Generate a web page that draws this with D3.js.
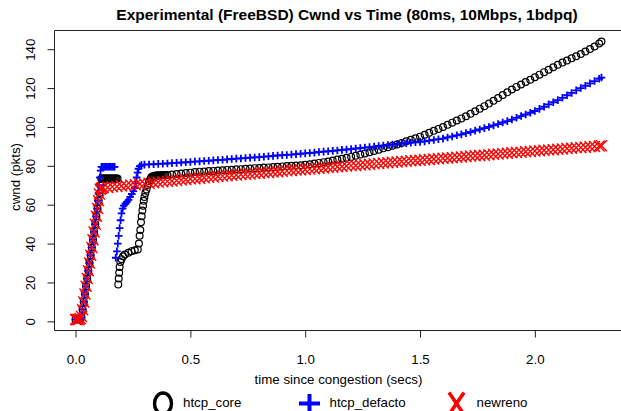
<!DOCTYPE html>
<html>
<head>
<meta charset="utf-8">
<script src="https://cdn.jsdelivr.net/npm/d3@7"></script>
<style>
	body { margin: 0; background: #fff; }
	svg { display: block; font-family: 'Liberation Sans', Arial, Helvetica, sans-serif; }
	.axis text { font-size: 13.3px; fill: #000; }
	.axis line { stroke: #222; }
</style>
</head>
<body>
<div id="chart"></div>
<script>
// series names / colours as in the legend
const seriesNames = ['htcp_core', 'htcp_defacto', 'newreno'];
const seriesColors = ['#000000', '#0000ff', '#ff0000'];
const xTicks = [0, 0.5, 1, 1.5, 2];
const yTicks = [0, 20, 40, 60, 80, 100, 120, 140];

// [time since congestion (secs), cwnd (pkts)]
const htcpCore = [
	[0, 1], [0.01, 1], [0.02, 1], [0.026, 2], [0.031, 6], [0.036, 10], [0.041, 14], [0.046, 18],
	[0.051, 22], [0.056, 26], [0.061, 30], [0.066, 34], [0.071, 38], [0.076, 42], [0.081, 46],
	[0.086, 50], [0.091, 54], [0.096, 58], [0.101, 62], [0.105, 66], [0.108, 70], [0.112, 73.3],
	[0.116, 73.5], [0.12, 73.5], [0.125, 73.5], [0.13, 73.5], [0.135, 73.5], [0.14, 73.5],
	[0.145, 73.5], [0.15, 73.5], [0.155, 73.5], [0.16, 73.5], [0.165, 73.5], [0.17, 73.5],
	[0.174, 73.5], [0.178, 73.5], [0.183, 73.5], [0.186, 19], [0.188, 22], [0.19, 25], [0.192, 28],
	[0.195, 30.5], [0.2, 32], [0.207, 33.5], [0.215, 34.4], [0.23, 35.3], [0.244, 36.1], [0.258, 36.6],
	[0.271, 37], [0.276, 40], [0.279, 44], [0.282, 47], [0.285, 51], [0.288, 54], [0.291, 57],
	[0.294, 59.5], [0.297, 62], [0.3, 64], [0.304, 66], [0.309, 67.8], [0.315, 70], [0.32, 72],
	[0.327, 73.5], [0.331, 74.2], [0.335, 74.5], [0.339, 74.6], [0.343, 74.8], [0.347, 74.9],
	[0.351, 75], [0.355, 75], [0.36, 75], [0.365, 75], [0.37, 75.1], [0.375, 75.1], [0.38, 75.2],
	[0.385, 75.2], [0.39, 75.3],
	[0.40, 75.3], [0.42, 75.5], [0.44, 75.8], [0.46, 76.0], [0.48, 76.3], [0.50, 76.5], [0.52, 76.8],
	[0.54, 77.0], [0.56, 77.1], [0.58, 77.3], [0.60, 77.4], [0.62, 77.6], [0.64, 77.7], [0.66, 77.9],
	[0.68, 78.0], [0.70, 78.2], [0.72, 78.3], [0.74, 78.5], [0.76, 78.6], [0.78, 78.8], [0.80, 78.9],
	[0.82, 79.1], [0.84, 79.2], [0.86, 79.4], [0.88, 79.5], [0.90, 79.7], [0.92, 79.9], [0.94, 80.0],
	[0.96, 80.2], [0.98, 80.3], [1.00, 80.5], [1.02, 80.8], [1.04, 81.2], [1.06, 81.5], [1.08, 81.9],
	[1.10, 82.2], [1.12, 82.7], [1.14, 83.2], [1.16, 83.6], [1.18, 84.1], [1.20, 84.6], [1.22, 85.2],
	[1.24, 85.8], [1.26, 86.4], [1.28, 87.0], [1.30, 87.6], [1.32, 88.3], [1.34, 89.0], [1.36, 89.6],
	[1.38, 90.3], [1.40, 91.0], [1.42, 91.8], [1.44, 92.6], [1.46, 93.4], [1.48, 94.2], [1.50, 95.0],
	[1.52, 96.0], [1.54, 97.0], [1.56, 98.0], [1.58, 99.0], [1.60, 100.0], [1.62, 101.1], [1.64, 102.2],
	[1.66, 103.3], [1.68, 104.4], [1.70, 105.5], [1.72, 106.8], [1.74, 108.1], [1.76, 109.4],
	[1.78, 110.7], [1.80, 112.0], [1.82, 113.5], [1.84, 114.9], [1.86, 116.4], [1.88, 117.8],
	[1.90, 119.3], [1.92, 120.6], [1.94, 121.8], [1.96, 123.1], [1.98, 124.3], [2.00, 125.6],
	[2.02, 126.9], [2.04, 128.2], [2.06, 129.4], [2.08, 130.7], [2.10, 132.0], [2.12, 133.1],
	[2.14, 134.2], [2.16, 135.3], [2.18, 136.4], [2.20, 137.5], [2.22, 138.8], [2.24, 140.1],
	[2.26, 141.4], [2.28, 142.9], [2.29, 143.9]
];

const htcpDefacto = [
	[0, 1], [0.01, 1], [0.02, 1], [0.025, 2], [0.03, 6], [0.035, 10], [0.04, 14], [0.045, 18],
	[0.05, 22], [0.055, 26], [0.06, 30], [0.065, 34], [0.07, 38], [0.075, 42], [0.08, 46],
	[0.085, 50], [0.09, 54], [0.094, 58], [0.097, 62], [0.1, 66], [0.103, 70], [0.106, 74],
	[0.109, 77.5], [0.113, 79.5], [0.118, 79.5], [0.124, 79.5], [0.13, 79.5], [0.136, 79.5],
	[0.142, 79.5], [0.148, 79.5], [0.154, 79.5], [0.16, 79.5], [0.166, 79.5], [0.17, 79.5],
	[0.175, 32.7], [0.18, 36], [0.184, 40], [0.188, 44], [0.192, 48],
	[0.196, 52], [0.2, 55.5], [0.205, 58], [0.21, 59.5], [0.217, 60.5], [0.224, 61.5], [0.231, 62.5],
	[0.238, 64], [0.245, 65.5], [0.252, 67], [0.258, 68.6], [0.262, 71], [0.266, 74], [0.27, 76.5],
	[0.274, 78.5], [0.28, 79.8], [0.287, 80.4],
	[0.30, 80.6], [0.32, 80.7], [0.34, 80.8], [0.36, 81.0], [0.38, 81.1], [0.40, 81.2], [0.42, 81.4],
	[0.44, 81.5], [0.46, 81.7], [0.48, 81.8], [0.50, 82.0], [0.52, 82.2], [0.54, 82.3], [0.56, 82.5],
	[0.58, 82.6], [0.60, 82.8], [0.62, 83.0], [0.64, 83.1], [0.66, 83.3], [0.68, 83.5], [0.70, 83.7],
	[0.72, 83.8], [0.74, 84.0], [0.76, 84.2], [0.78, 84.3], [0.80, 84.5], [0.82, 84.7], [0.84, 84.9],
	[0.86, 85.1], [0.88, 85.3], [0.90, 85.5], [0.92, 85.6], [0.94, 85.8], [0.96, 86.0], [0.98, 86.2],
	[1.00, 86.4], [1.02, 86.6], [1.04, 86.8], [1.06, 87.1], [1.08, 87.3], [1.10, 87.5], [1.12, 87.7],
	[1.14, 87.9], [1.16, 88.2], [1.18, 88.4], [1.20, 88.6], [1.22, 88.9], [1.24, 89.1], [1.26, 89.4],
	[1.28, 89.6], [1.30, 89.9], [1.32, 90.2], [1.34, 90.4], [1.36, 90.7], [1.38, 90.9], [1.40, 91.2],
	[1.42, 91.4], [1.44, 91.6], [1.46, 91.9], [1.48, 92.1], [1.50, 92.3], [1.52, 92.6], [1.54, 93.0],
	[1.56, 93.3], [1.58, 93.7], [1.60, 94.0], [1.62, 94.6], [1.64, 95.1], [1.66, 95.7], [1.68, 96.2],
	[1.70, 96.8], [1.72, 97.4], [1.74, 98.1], [1.76, 98.7], [1.78, 99.4], [1.80, 100.0], [1.82, 100.8],
	[1.84, 101.5], [1.86, 102.3], [1.88, 103.0], [1.90, 103.8], [1.92, 104.7], [1.94, 105.6],
	[1.96, 106.4], [1.98, 107.3], [2.00, 108.2], [2.02, 109.3], [2.04, 110.4], [2.06, 111.6],
	[2.08, 112.7], [2.10, 113.8], [2.12, 115.0], [2.14, 116.3], [2.16, 117.5], [2.18, 118.8],
	[2.20, 120.0], [2.22, 121.2], [2.24, 122.4], [2.26, 123.6], [2.28, 124.8], [2.29, 125.4]
];

const newreno = [
	[0, 1], [0.005, 1], [0.01, 1], [0.015, 1], [0.02, 1.5], [0.026, 2.5], [0.031, 6], [0.036, 10],
	[0.041, 14], [0.046, 18], [0.051, 22], [0.056, 26], [0.061, 30], [0.066, 34], [0.071, 38],
	[0.076, 42], [0.081, 46], [0.086, 50], [0.091, 54], [0.096, 58], [0.1, 62], [0.104, 65.5],
	[0.108, 68], [0.113, 68.5],
	[0.12, 68.7], [0.14, 68.9], [0.16, 69.2], [0.18, 69.4], [0.20, 69.6], [0.22, 69.8], [0.24, 70.1],
	[0.26, 70.3], [0.28, 70.6], [0.30, 70.8], [0.32, 71.0], [0.34, 71.3], [0.36, 71.5], [0.38, 71.8],
	[0.40, 72.0], [0.42, 72.2], [0.44, 72.5], [0.46, 72.7], [0.48, 73.0], [0.50, 73.2], [0.52, 73.4],
	[0.54, 73.6], [0.56, 73.9], [0.58, 74.1], [0.60, 74.3], [0.62, 74.5], [0.64, 74.7], [0.66, 74.9],
	[0.68, 75.1], [0.70, 75.3], [0.72, 75.5], [0.74, 75.6], [0.76, 75.8], [0.78, 76.0], [0.80, 76.2],
	[0.82, 76.4], [0.84, 76.6], [0.86, 76.8], [0.88, 77.0], [0.90, 77.2], [0.92, 77.4], [0.94, 77.6],
	[0.96, 77.8], [0.98, 77.9], [1.00, 78.1], [1.02, 78.3], [1.04, 78.5], [1.06, 78.7], [1.08, 78.9],
	[1.10, 79.1], [1.12, 79.3], [1.14, 79.5], [1.16, 79.7], [1.18, 79.9], [1.20, 80.1], [1.22, 80.2],
	[1.24, 80.4], [1.26, 80.6], [1.28, 80.8], [1.30, 81.0], [1.32, 81.2], [1.34, 81.4], [1.36, 81.6],
	[1.38, 81.8], [1.40, 82.0], [1.42, 82.2], [1.44, 82.4], [1.46, 82.6], [1.48, 82.7], [1.50, 82.9],
	[1.52, 83.1], [1.54, 83.3], [1.56, 83.5], [1.58, 83.7], [1.60, 83.9], [1.62, 84.0], [1.64, 84.2],
	[1.66, 84.4], [1.68, 84.6], [1.70, 84.8], [1.72, 85.0], [1.74, 85.2], [1.76, 85.3], [1.78, 85.5],
	[1.80, 85.7], [1.82, 85.9], [1.84, 86.1], [1.86, 86.3], [1.88, 86.5], [1.90, 86.7], [1.92, 86.8],
	[1.94, 87.0], [1.96, 87.2], [1.98, 87.4], [2.00, 87.6], [2.02, 87.8], [2.04, 88.0], [2.06, 88.1],
	[2.08, 88.3], [2.10, 88.5], [2.12, 88.7], [2.14, 88.9], [2.16, 89.1], [2.18, 89.3], [2.20, 89.4],
	[2.22, 89.6], [2.24, 89.8], [2.26, 90.0], [2.28, 90.2], [2.29, 90.3]
];

const seriesData = [htcpCore, htcpDefacto, newreno];

function createChart(el) {
	const $sel = d3.select(el);

	// dimension stuff
	const width = 621;
	const height = 411;
	const plotLeft = 54.5;
	const plotRight = 622.5; // plot region runs just past the picture edge
	const plotTop = 30.5;
	const plotBottom = 330.5;
	const fontSize = '13.3px';

	// scales (R style: 4% padding round the data range)
	const scaleX = d3.scaleLinear();
	const scaleY = d3.scaleLinear();
	const pad = ext => {
		const r = (ext[1] - ext[0]) * 0.04;
		return [ext[0] - r, ext[1] + r];
	};

	let $svg = null;
	let $vis = null;

	// marker shapes, one per series
	const markerPath = {
		htcp_defacto: 'M-3.8,0H3.8M0,-3.8V3.8',
		newreno: 'M-5.5,-5.5L5.5,5.5M-5.5,5.5L5.5,-5.5'
	};

	const Chart = {
		init() {
			$svg = $sel.append('svg')
				.attr('width', width)
				.attr('height', height);
			$vis = $svg.append('g').attr('class', 'g-vis');

			const all = [].concat(...seriesData);
			scaleX.domain(pad(d3.extent(all, d => d[0]))).range([plotLeft, plotRight]);
			scaleY.domain(pad(d3.extent(all, d => d[1]))).range([plotBottom, plotTop]);

			Chart.render();
		},
		render() {
			// title
			$svg.append('text')
				.attr('x', 347)
				.attr('y', 20)
				.attr('text-anchor', 'middle')
				.style('font-size', '15.5px')
				.style('font-weight', 'bold')
				.text('Experimental (FreeBSD) Cwnd vs Time (80ms, 10Mbps, 1bdpq)');

			// points, drawn in legend order so newreno sits on top
			seriesData.forEach((series, i) => {
				const name = seriesNames[i];
				const $g = $vis.append('g').attr('class', `series ${name}`);
				if (name === 'htcp_core') {
					$g.selectAll('circle')
						.data(series)
						.join('circle')
						.attr('cx', d => scaleX(d[0]))
						.attr('cy', d => scaleY(d[1]))
						.attr('r', 3.4)
						.attr('fill', 'none')
						.attr('stroke', seriesColors[i])
						.attr('stroke-width', 1.2);
				} else {
					$g.selectAll('path')
						.data(series)
						.join('path')
						.attr('transform', d => `translate(${scaleX(d[0])},${scaleY(d[1])})`)
						.attr('d', markerPath[name])
						.attr('fill', 'none')
						.attr('stroke', seriesColors[i])
						.attr('stroke-width', name === 'newreno' ? 1.4 : 1.8);
				}
			});

			// box: left, top, bottom (right edge falls outside the picture)
			$svg.append('path')
				.attr('d', `M${plotRight},${plotTop}H${plotLeft}V${plotBottom}H${plotRight}`)
				.attr('fill', 'none')
				.attr('stroke', '#222')
				.attr('stroke-width', 1);

			// axes
			const $xAxis = $svg.append('g')
				.attr('class', 'axis axis-x')
				.attr('transform', `translate(0,${plotBottom})`)
				.call(d3.axisBottom(scaleX)
					.tickValues(xTicks)
					.tickSize(7)
					.tickPadding(17.5)
					.tickFormat(d3.format('.1f')));
			$xAxis.select('.domain').remove();
			$xAxis.attr('font-family', null).attr('font-size', null);

			const $yAxis = $svg.append('g')
				.attr('class', 'axis axis-y')
				.attr('transform', `translate(${plotLeft},0)`)
				.call(d3.axisLeft(scaleY)
					.tickValues(yTicks)
					.tickSize(7));
			$yAxis.select('.domain').remove();
			$yAxis.attr('font-family', null).attr('font-size', null);
			$yAxis.selectAll('text')
				.attr('x', null)
				.attr('dy', null)
				.attr('text-anchor', 'middle')
				.attr('transform', 'translate(-19.5,0) rotate(-90)');

			// axis titles
			$svg.append('text')
				.attr('x', 338.5)
				.attr('y', 384)
				.attr('text-anchor', 'middle')
				.style('font-size', fontSize)
				.text('time since congestion (secs)');

			$svg.append('text')
				.attr('transform', 'translate(19.5,177) rotate(-90)')
				.attr('text-anchor', 'middle')
				.style('font-size', fontSize)
				.text('cwnd (pkts)');

			// legend along the bottom
			const legendX = [163, 309.5, 456.5];
			const $legend = $svg.append('g').attr('class', 'legend');
			const $items = $legend.selectAll('g')
				.data(seriesNames)
				.join('g')
				.attr('transform', (d, i) => `translate(${legendX[i]},403.5)`);

			$items.filter(d => d === 'htcp_core')
				.append('ellipse')
				.attr('rx', 8.5)
				.attr('ry', 10.5)
				.attr('fill', 'none')
				.attr('stroke', seriesColors[0])
				.attr('stroke-width', 3.4);
			$items.filter(d => d === 'htcp_defacto')
				.append('path')
				.attr('d', 'M-10.5,0H10.5M0,-9.5V9.5')
				.attr('stroke', seriesColors[1])
				.attr('stroke-width', 4);
			$items.filter(d => d === 'newreno')
				.append('path')
				.attr('d', 'M-7.5,-11L7.5,11M-7.5,11L7.5,-11')
				.attr('stroke', seriesColors[2])
				.attr('stroke-width', 3.6);

			$items.append('text')
				.attr('x', 20)
				.attr('y', 3.5)
				.style('font-size', fontSize)
				.text(d => d);

			return Chart;
		}
	};
	Chart.init();
	return Chart;
}

createChart(document.querySelector('#chart'));
</script>
</body>
</html>
